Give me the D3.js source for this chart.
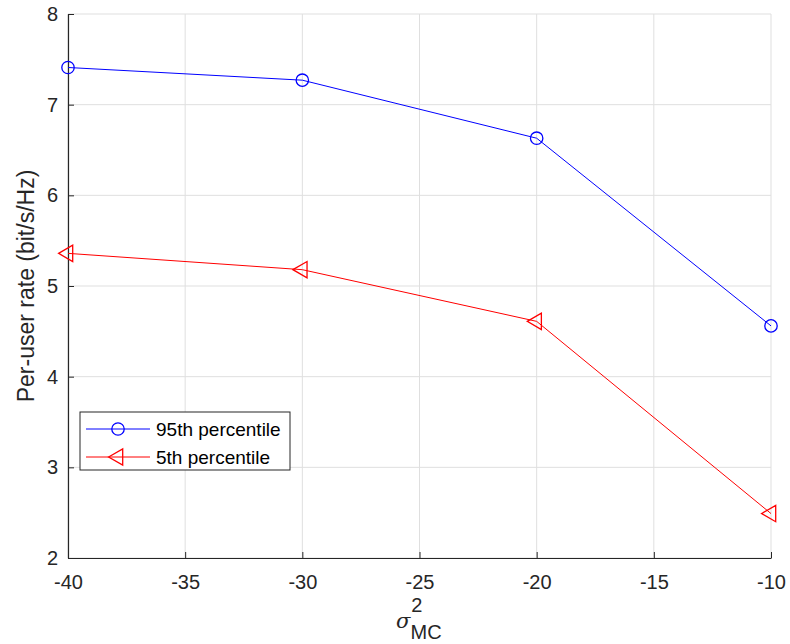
<!DOCTYPE html>
<html>
<head>
<meta charset="utf-8">
<script src="https://cdn.jsdelivr.net/npm/d3@7"></script>
<style>
  body { margin: 0; background: #fff; }
  text { font-family: "Liberation Sans", Arial, sans-serif; }
</style>
</head>
<body>
<div id="chart"></div>
<script>
// data
const sigmaDb = [-40, -30, -20, -10];
const p95 = [7.41, 7.27, 6.63, 4.56];
const p5 = [5.36, 5.18, 4.61, 2.49];
const xTicks = [-40, -35, -30, -25, -20, -15, -10];
const yTicks = [2, 3, 4, 5, 6, 7, 8];

const width = 790, height = 644;
const margin = { left: 68, right: 19, top: 14, bottom: 86 };
const axisColor = "#262626";

const svg = d3.select("#chart").append("svg")
  .attr("width", width)
  .attr("height", height);

const x = d3.scaleLinear().domain([-40, -10]).range([margin.left, width - margin.right]);
const y = d3.scaleLinear().domain([2, 8]).range([height - margin.bottom, margin.top]);

// grid
const grid = svg.append("g").attr("stroke", "#dfdfdf").attr("stroke-width", 1);
grid.selectAll(".gx").data(xTicks).enter().append("line")
  .attr("x1", d => x(d)).attr("x2", d => x(d))
  .attr("y1", y(2)).attr("y2", y(8));
grid.selectAll(".gy").data(yTicks).enter().append("line")
  .attr("x1", x(-40)).attr("x2", x(-10))
  .attr("y1", d => y(d)).attr("y2", d => y(d));

// axes (MATLAB style, ticks pointing inward)
const xAxis = svg.append("g")
  .attr("transform", `translate(0,${y(2)})`)
  .call(d3.axisBottom(x).tickValues(xTicks).tickSize(-6).tickSizeOuter(0).tickPadding(17).tickFormat(d3.format("d")));
const yAxis = svg.append("g")
  .attr("transform", `translate(${x(-40)},0)`)
  .call(d3.axisLeft(y).tickValues(yTicks).tickSize(-6).tickSizeOuter(0).tickPadding(10).tickFormat(d3.format("d")));

[xAxis, yAxis].forEach(a => {
  a.attr("font-size", 20).attr("font-family", "Liberation Sans, Arial, sans-serif");
  a.select(".domain").attr("stroke", axisColor).attr("stroke-width", 1.2);
  a.selectAll(".tick line").attr("stroke", axisColor);
  a.selectAll(".tick text").attr("fill", axisColor);
});
xAxis.selectAll(".tick text").text(d => d < 0 ? "-" + Math.abs(d) : d);

// axis labels
svg.append("text")
  .attr("transform", `translate(34,${(y(2) + y(8)) / 2}) rotate(-90)`)
  .attr("text-anchor", "middle")
  .attr("fill", axisColor)
  .attr("font-size", 23)
  .text("Per-user rate (bit/s/Hz)");

const xl = svg.append("text")
  .attr("x", 396)
  .attr("y", 628)
  .attr("fill", axisColor)
  .attr("font-size", 21);
xl.append("tspan").style("font-family", "'DejaVu Serif', serif").style("font-style", "italic").text("σ");
xl.append("tspan").attr("dx", 1).attr("dy", -16).attr("font-size", 20).text("2");
xl.append("tspan").attr("dx", -12).attr("dy", 27).attr("font-size", 20).text("MC");

// lines
const line = d3.line().x((d, i) => x(sigmaDb[i])).y(d => y(d));

svg.append("path").datum(p95)
  .attr("fill", "none").attr("stroke", "#0000ff").attr("stroke-width", 1)
  .attr("d", line);
svg.append("path").datum(p5)
  .attr("fill", "none").attr("stroke", "#ff0000").attr("stroke-width", 1)
  .attr("d", line);

// markers
svg.selectAll(".m95").data(p95).enter().append("circle")
  .attr("cx", (d, i) => x(sigmaDb[i])).attr("cy", d => y(d))
  .attr("r", 6.2).attr("fill", "none").attr("stroke", "#0000ff").attr("stroke-width", 1.3);

const tri = d3.symbol().type(d3.symbolTriangle).size(115);
svg.selectAll(".m5").data(p5).enter().append("path")
  .attr("d", tri)
  .attr("transform", (d, i) => `translate(${x(sigmaDb[i])},${y(d)}) rotate(-90)`)
  .attr("fill", "none").attr("stroke", "#ff0000").attr("stroke-width", 1.3);

// legend
const lg = svg.append("g").attr("transform", "translate(80,412)");
lg.append("rect").attr("width", 210).attr("height", 58)
  .attr("fill", "#fff").attr("stroke", axisColor).attr("stroke-width", 1);
const items = [
  { name: "95th percentile", color: "#0000ff", marker: "circle" },
  { name: "5th percentile", color: "#ff0000", marker: "tri" }
];
items.forEach((it, i) => {
  const cy = 17 + i * 28;
  lg.append("line").attr("x1", 6).attr("x2", 70).attr("y1", cy).attr("y2", cy)
    .attr("stroke", it.color).attr("stroke-width", 1);
  if (it.marker === "circle") {
    lg.append("circle").attr("cx", 38).attr("cy", cy).attr("r", 6.2)
      .attr("fill", "none").attr("stroke", it.color).attr("stroke-width", 1.3);
  } else {
    lg.append("path").attr("d", tri)
      .attr("transform", `translate(38,${cy}) rotate(-90)`)
      .attr("fill", "none").attr("stroke", it.color).attr("stroke-width", 1.3);
  }
  lg.append("text").attr("x", 76).attr("y", cy + 7)
    .attr("fill", "#000").attr("font-size", 19).text(it.name);
});
</script>
</body>
</html>
